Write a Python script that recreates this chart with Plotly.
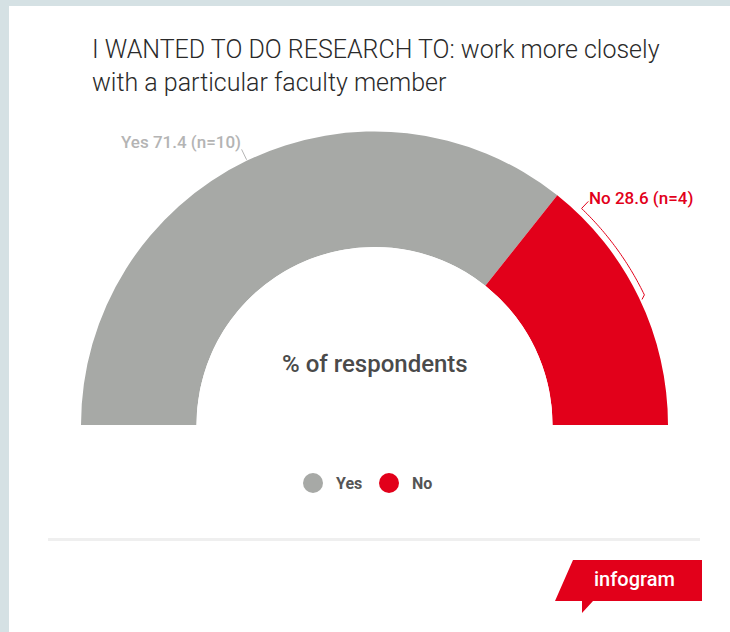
import numpy as np
import plotly.graph_objects as go

# ---- data -------------------------------------------------------------
categories = ["Yes", "No"]
shares = [71.4, 28.6]          # % of respondents
counts = [10, 4]               # n per answer
slice_colors = ["#a7a9a6", "#e2001a"]
label_colors = ["#b4b4b4", "#e2001a"]

title_text = ("I WANTED TO DO RESEARCH TO: work more closely"
              "<br>with a particular faculty member")
center_text = "% of respondents"
brand_text = "infogram"

# ---- geometry (pixels) -------------------------------------------------
W, H = 730, 632
CX, CY = 374.5, 425.0          # centre of the half ring
R_OUT, R_IN = 293.5, 178.0     # outer / inner radius of the ring
R_MAX = 1.15                   # radial range, leaves room for leader lines
UNIT = R_OUT - R_IN            # pixels per radial unit
R_FRAME = R_IN + R_MAX * UNIT
HOLE = R_IN / R_FRAME
FONT = "Roboto"


def r_of(px):
    """radial value for a distance (px) from the ring centre"""
    return (px - R_IN) / UNIT


def xy_of(px, theta):
    t = np.radians(theta)
    return CX + px * np.cos(t), CY - px * np.sin(t)


# slice angles: start at 180 deg (left) and run clockwise over the top
total = sum(shares)
thetas, widths = [], []
start = 180.0
for v in shares:
    w = v / total * 180.0
    thetas.append(start - w / 2)
    widths.append(w)
    start -= w

fig = go.Figure()

fig.add_trace(go.Barpolar(
    r=[1.0] * len(shares), theta=thetas, width=widths,
    marker=dict(color=slice_colors, line=dict(width=0)),
    subplot="polar", showlegend=False, hoverinfo="skip",
))

annotations = []

# Yes: short radial leader line from the middle of the slice
yes_t = thetas[0]
fig.add_trace(go.Scatterpolar(
    r=[r_of(294.5), r_of(306)], theta=[yes_t, yes_t], mode="lines",
    line=dict(color=label_colors[0], width=1), subplot="polar",
    showlegend=False, hoverinfo="skip", cliponaxis=False,
))
yx, yy = xy_of(306, yes_t)
annotations.append(dict(
    x=yx + 1, y=yy - 7, xref="x", yref="y", xanchor="right", yanchor="middle",
    text=f"{categories[0]} {shares[0]} (n={counts[0]})", showarrow=False,
    font=dict(family=FONT, size=17, color=label_colors[0], weight=500),
))

# No: bracket along the outside of the slice
no_t = thetas[1]
no_edge = no_t + widths[1] / 2
b_start = no_edge - 5.2
arc_t = np.linspace(b_start, no_t, 40)
br_r = [r_of(309.4)] + [r_of(299.6)] * len(arc_t) + [r_of(295.5)]
br_t = [b_start] + list(arc_t) + [no_t - 0.6]
fig.add_trace(go.Scatterpolar(
    r=br_r, theta=br_t, mode="lines",
    line=dict(color=label_colors[1], width=1), subplot="polar",
    showlegend=False, hoverinfo="skip", cliponaxis=False,
))
nx, ny = xy_of(309.4, b_start)
annotations.append(dict(
    x=nx - 1, y=ny - 3, xref="x", yref="y", xanchor="left", yanchor="middle",
    text=f"{categories[1]} {shares[1]} (n={counts[1]})", showarrow=False,
    font=dict(family=FONT, size=17, color=label_colors[1], weight=500),
))

# legend: dots + names
leg_x = [313 + 76 * i for i in range(len(categories))]
leg_y = [483] * len(categories)
fig.add_trace(go.Scatter(
    x=leg_x, y=leg_y, mode="markers",
    marker=dict(size=20, color=slice_colors, line=dict(width=0)),
    xaxis="x", yaxis="y", showlegend=False, hoverinfo="skip",
))
for i, name in enumerate(categories):
    annotations.append(dict(
        x=leg_x[i] + 21, y=leg_y[i], xref="x", yref="y",
        xanchor="left", yanchor="middle", text=name, showarrow=False,
        font=dict(family=FONT, size=16, color="#555555", weight=700),
    ))

# title, centre caption, brand
annotations.append(dict(
    x=90, y=33, xref="x", yref="y", xanchor="left", yanchor="top",
    text=title_text, showarrow=False, align="left",
    font=dict(family=FONT, size=25, color="#2a2a2a", weight=300),
))
annotations.append(dict(
    x=CX, y=364, xref="x", yref="y", xanchor="center", yanchor="middle",
    text=center_text, showarrow=False,
    font=dict(family=FONT, size=24, color="#4a4a4a", weight=500),
))
annotations.append(dict(
    x=634, y=579, xref="x", yref="y", xanchor="center", yanchor="middle",
    text=brand_text, showarrow=False,
    font=dict(family=FONT, size=20, color="#ffffff", weight=500),
))

shapes = [
    # white card on the tinted page
    dict(type="rect", xref="x", yref="y", x0=9, x1=W, y0=6, y1=H,
         fillcolor="#ffffff", line=dict(width=0), layer="below"),
    # footer separator
    dict(type="line", xref="x", yref="y", x0=48, x1=700, y0=539.5, y1=539.5,
         line=dict(color="#efefef", width=3), layer="below"),
    # brand badge
    dict(type="path", xref="x", yref="y",
         path="M573,560 L702,560 L702,601 L593,601 L582,613 L582,601 L555,601 Z",
         fillcolor="#e2001a", line=dict(width=0), layer="below"),
]

fig.update_layout(
    width=W, height=H, autosize=False,
    margin=dict(l=0, r=0, t=0, b=0),
    paper_bgcolor="#d5e1e4", plot_bgcolor="rgba(0,0,0,0)",
    showlegend=False,
    xaxis=dict(range=[0, W], domain=[0, 1], visible=False, fixedrange=True),
    yaxis=dict(range=[H, 0], domain=[0, 1], visible=False, fixedrange=True),
    polar=dict(
        domain=dict(x=[(CX - R_FRAME) / W, (CX + R_FRAME) / W],
                    y=[(H - CY) / H, (H - CY + R_FRAME) / H]),
        sector=[0, 180], hole=HOLE, bgcolor="rgba(0,0,0,0)",
        radialaxis=dict(range=[0, R_MAX], visible=False),
        angularaxis=dict(visible=False, rotation=0, direction="counterclockwise"),
    ),
    annotations=annotations, shapes=shapes,
)

fig.write_html("out.html")
